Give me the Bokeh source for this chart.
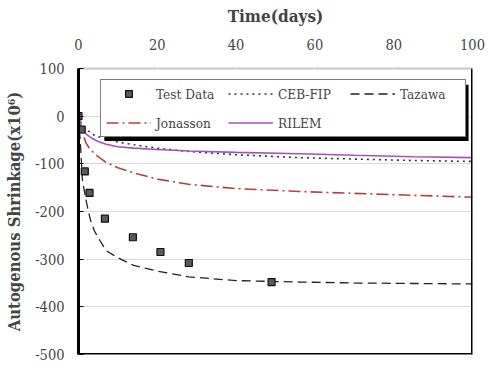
from bokeh.plotting import figure
from bokeh.models import Range1d, FixedTicker, Legend, LegendItem, Span, BoxAnnotation
from bokeh.embed import file_html
from bokeh.resources import INLINE

# Measured autogenous shrinkage (x10^-6)
days_test = [0, 0.8, 1.6, 2.8, 6.7, 13.8, 20.8, 28, 49]
shrink_test = [0, -28, -116, -161, -215, -254, -285, -308, -348]

# Model predictions sampled over time (days)
days_model = [0, 0.5, 1, 2, 3, 4, 5, 7, 10, 14, 20, 28, 40, 56, 70, 85, 100]
ceb_fip = [0, -12, -20, -28, -34, -40, -43, -48, -54, -60, -67, -74, -81, -87, -90, -93, -95]
tazawa = [0, -60, -135, -180, -217, -240, -255, -282, -297, -313, -325, -337, -345, -348, -350, -351, -352]
jonasson = [0, -18, -35, -58, -70, -78, -85, -97, -108, -119, -132, -143, -152, -158, -162, -166, -170]
rilem = [0, -16, -28, -38, -44, -49, -53, -59, -64, -67, -70, -73, -76, -79, -82, -85, -87]

x_ticks = [0, 20, 40, 60, 80, 100]
y_ticks = [-500, -400, -300, -200, -100, 0, 100]
y_tick_labels = ["-500", "-400", "-300", "-200", "-100", "0", "100"]

FONT = "DejaVu Serif Condensed, DejaVu Serif"

p = figure(width=492, height=375, output_backend="svg", toolbar_location=None,
           x_range=Range1d(0, 100), y_range=Range1d(-500, 100),
           x_axis_location="above",
           min_border_left=78, min_border_top=68, min_border_right=20, min_border_bottom=21)
p.outline_line_color = None
p.background_fill_color = "white"
p.border_fill_color = "white"

# top (time) axis
xa = p.xaxis[0]
xa.ticker = FixedTicker(ticks=x_ticks)
xa.axis_label = "Time(days)"
xa.axis_label_text_font = FONT
xa.axis_label_text_font_style = "bold"
xa.axis_label_text_font_size = "17px"
xa.axis_label_standoff = 10
xa.major_label_text_font = FONT
xa.major_label_text_font_size = "14.5px"
xa.major_label_standoff = 19
xa.axis_line_color = "#c8c8c8"
xa.axis_line_width = 2
xa.major_tick_in = 3
xa.major_tick_out = 0
xa.major_tick_line_color = "#ffffff"
xa.minor_tick_line_color = None

# left (shrinkage) axis
ya = p.yaxis[0]
ya.ticker = FixedTicker(ticks=y_ticks)
ya.major_label_overrides = {t: s for t, s in zip(y_ticks, y_tick_labels)}
ya.axis_label = "Autogenous Shrinkage(x10\u2076)"
ya.axis_label_text_font = FONT
ya.axis_label_text_font_style = "bold"
ya.axis_label_text_font_size = "16.5px"
ya.axis_label_standoff = 8
ya.major_label_text_font = FONT
ya.major_label_text_font_size = "14.5px"
ya.major_label_standoff = 14
ya.axis_line_color = "black"
ya.axis_line_width = 3
ya.major_tick_in = 5
ya.major_tick_out = 0
ya.major_tick_line_color = "black"
ya.minor_tick_line_color = None

p.xgrid.visible = False
p.ygrid.ticker = FixedTicker(ticks=y_ticks)
p.ygrid.grid_line_color = "#d9d9d9"
p.ygrid.grid_line_width = 1

# heavy frame edges on the right and bottom
p.add_layout(Span(location=100, dimension="height", line_color="black", line_width=3))
p.add_layout(Span(location=-500, dimension="width", line_color="black", line_width=3))

r_ceb = p.line(days_model, ceb_fip, line_color="#2c3a2c", line_width=1.6, line_dash="2 4")
r_taz = p.line(days_model, tazawa, line_color="#222222", line_width=1.3, line_dash="9 5")
r_jon = p.line(days_model, jonasson, line_color="#b0403c", line_width=1.6, line_dash="12 4 2 4")
r_ril = p.line(days_model, rilem, line_color="#a452b8", line_width=1.6)
r_test = p.scatter(days_test, shrink_test, marker="square", size=7,
                   fill_color="#5a5a5a", line_color="#111111", line_width=1.2)

# drop shadow behind the legend box
p.add_layout(BoxAnnotation(left=6.6, right=99.0, top=66.0, bottom=-52,
                           fill_color="black", fill_alpha=1.0, line_color=None))

legend = Legend(items=[
    LegendItem(label="Test Data", renderers=[r_test]),
    LegendItem(label="CEB-FIP", renderers=[r_ceb]),
    LegendItem(label="Tazawa", renderers=[r_taz]),
    LegendItem(label="Jonasson", renderers=[r_jon]),
    LegendItem(label="RILEM", renderers=[r_ril]),
], location=(22, 217), orientation="horizontal", ncols=3,
    glyph_width=45, glyph_height=17, label_height=17, label_width=60, label_standoff=5,
    spacing=12, padding=5, margin=0,
    label_text_font=FONT, label_text_font_size="13.5px",
    border_line_color="black", border_line_width=1,
    background_fill_color="white", background_fill_alpha=1.0)
p.add_layout(legend)

open("out.html", "w").write(file_html(p, INLINE))
